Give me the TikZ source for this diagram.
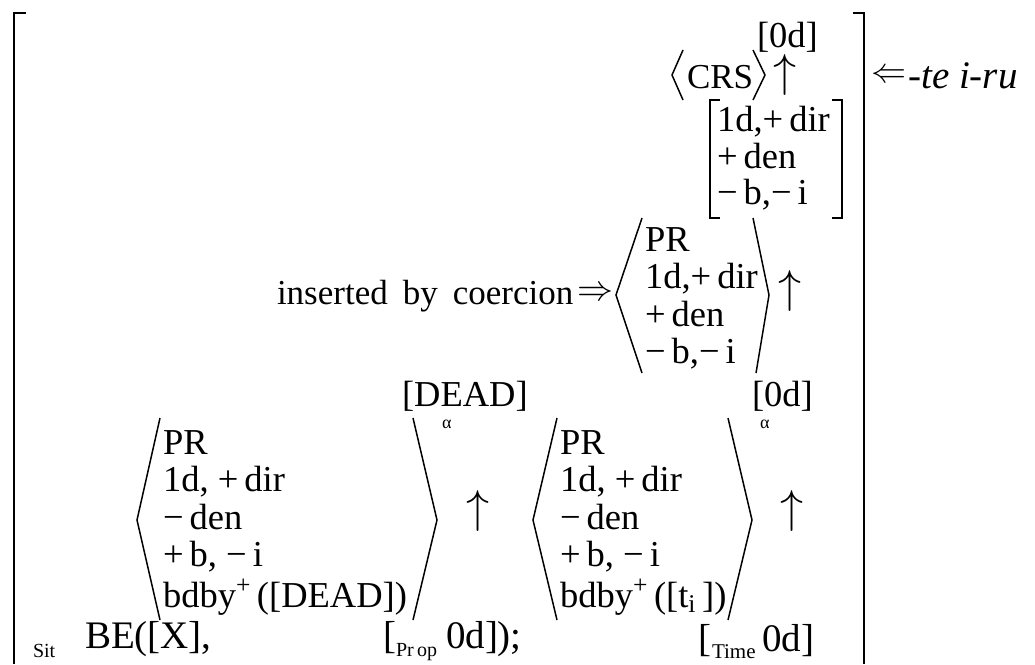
\RequirePackage{fix-cm}
\documentclass[tikz,border=0pt]{standalone}
\usepackage{graphicx}
\usepackage{fontspec}
\setmainfont{Liberation Serif}[ItalicFont={Liberation Serif Italic}]
\newcommand{\widespaces}{\spaceskip=15pt\relax}
\newcommand{\uparr}{\resizebox{!}{32pt}{$\uparrow$}}
\begin{document}
\begin{tikzpicture}[x=1pt,y=-1pt,
  txt/.style={anchor=base west,inner sep=0pt,outer sep=0pt,font=\fontsize{36.5}{40}\selectfont},
  big/.style={anchor=base west,inner sep=0pt,outer sep=0pt,font=\fontsize{39}{42}\selectfont},
  sml/.style={anchor=base west,inner sep=0pt,outer sep=0pt,font=\fontsize{20}{22}\selectfont},
  tiny/.style={anchor=base west,inner sep=0pt,outer sep=0pt,font=\fontsize{18}{20}\selectfont},
  arr/.style={anchor=center,inner sep=0pt,outer sep=0pt},
  bigbr/.style={line width=2pt},
  angbr/.style={line width=1.5pt,line join=miter},
  sqbr/.style={line width=1.6pt}]
\useasboundingbox (0,0) rectangle (1035,664);
\fill[white] (0,0) rectangle (1035,664);

% outer square brackets
\draw[bigbr] (26,13) -- (14,13) -- (14,664);
\draw[bigbr] (853,13) -- (864,13) -- (864,664);
\node[arr] (lArrow) at (889,76) {\resizebox{35pt}{!}{$\Leftarrow$}};
\node[anchor=base west,inner sep=0pt,font=\fontsize{39}{42}\selectfont\itshape] (suffix) at (908,88) {-te i-ru};

% CRS with its [0d] argument
\node[txt] (topZero) at (757,47) {[0d]};
\node[txt,font=\fontsize{35}{38}\selectfont] (crs) at (687,88) {CRS};
\draw[angbr] (683,50) -- (672,75) -- (683,100);
\draw[angbr] (753,50) -- (765,75) -- (753,100);
\node[arr] (upA) at (785,75) {\uparr};

% bracketed feature matrix
\draw[sqbr] (720,100) -- (710,100) -- (710,218) -- (720,218);
\draw[sqbr] (832,100) -- (842,100) -- (842,218) -- (832,218);
\node[txt] (mA1) at (717,131) {1d,+\,dir};
\node[txt] (mA2) at (717,168) {+\,den};
\node[txt] (mA3) at (717,204) {−\,b,−\,i};

% coerced PR
\node[txt,font=\fontsize{35}{38}\selectfont] (coerce) at (277,304) {\widespaces inserted by coercion};
\node[arr] (rArrow) at (595,294) {\resizebox{36pt}{!}{$\Rightarrow$}};
\draw[angbr] (642,218) -- (616,295) -- (642,373);
\draw[angbr] (753,218) -- (769,295) -- (756,373);
\node[txt] (mB1) at (645,251) {PR};
\node[txt] (mB2) at (645,288) {1d,+\,dir};
\node[txt] (mB3) at (645,326) {+\,den};
\node[txt] (mB4) at (645,363) {−\,b,−\,i};
\node[arr] (upB) at (790,291) {\uparr};

% [DEAD] and [0d] heads
\node[txt] (dead) at (402,406) {[DEAD]};
\node[tiny] (alphaA) at (442,428) {α};
\node[txt] (zeroB) at (752,406) {[0d]};
\node[tiny] (alphaB) at (760,428) {α};

% left PR
\draw[angbr] (160,418) -- (137,520) -- (160,620);
\draw[angbr] (413,418) -- (437,520) -- (413,620);
\node[txt] (mC1) at (163,454) {PR};
\node[txt] (mC2) at (163,491) {1d, +\,dir};
\node[txt] (mC3) at (163,529) {−\,den};
\node[txt] (mC4) at (163,566) {+\,b, −\,i};
\node[txt] (mC5) at (163,607) {bdby\textsuperscript{+}\,([DEAD])};
\node[arr] (upC) at (478,511) {\uparr};

% right PR
\draw[angbr] (557,418) -- (533,520) -- (557,620);
\draw[angbr] (728,418) -- (752,520) -- (728,620);
\node[txt] (mD1) at (560,454) {PR};
\node[txt] (mD2) at (560,491) {1d, +\,dir};
\node[txt] (mD3) at (560,529) {−\,den};
\node[txt] (mD4) at (560,566) {+\,b, −\,i};
\node[txt] (mD5) at (560,607) {bdby\textsuperscript{+}\,([t\textsubscript{i}\,])};
\node[arr] (upD) at (792,511) {\uparr};

% bottom line
\node[sml] (sit) at (33,657) {Sit};
\node[big] (be) at (85,648) {BE([X],};
\node[big] (propL) at (383,648) {[};
\node[sml] (prop) at (396,656) {Pr\,op};
\node[big] (propR) at (446,648) {0d]);};
\node[big] (timeL) at (698,651) {[};
\node[sml,font=\fontsize{21}{23}\selectfont] (time) at (712,658) {Time};
\node[big] (timeR) at (762,651) {0d]};
\end{tikzpicture}
\end{document}
